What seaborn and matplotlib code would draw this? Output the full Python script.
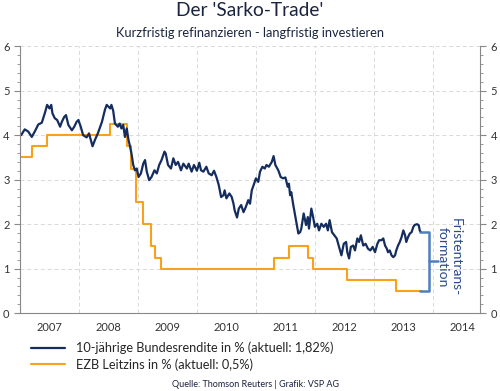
import matplotlib
matplotlib.use("Agg")
import matplotlib.pyplot as plt
import seaborn as sns
import numpy as np

# 10-year Bund yield (decimal year, %)
bund_t = [2007.02, 2007.08, 2007.14, 2007.20, 2007.25, 2007.31, 2007.37, 2007.42, 2007.46, 2007.50,
          2007.53, 2007.55, 2007.59, 2007.63, 2007.68, 2007.71, 2007.75, 2007.78, 2007.82, 2007.88,
          2007.92, 2007.96, 2007.99, 2008.03, 2008.07, 2008.13, 2008.17, 2008.23, 2008.27, 2008.32,
          2008.36, 2008.39, 2008.44, 2008.47, 2008.53, 2008.55, 2008.58, 2008.61, 2008.66, 2008.69,
          2008.72, 2008.75, 2008.78, 2008.81, 2008.84, 2008.86, 2008.89, 2008.92, 2008.95, 2008.98,
          2009.01, 2009.05, 2009.09, 2009.12, 2009.15, 2009.19, 2009.23, 2009.28, 2009.32, 2009.36,
          2009.40, 2009.45, 2009.47, 2009.51, 2009.56, 2009.60, 2009.64, 2009.68, 2009.73, 2009.77,
          2009.83, 2009.86, 2009.91, 2009.95, 2010.00, 2010.04, 2010.07, 2010.11, 2010.16, 2010.20,
          2010.25, 2010.29, 2010.33, 2010.37, 2010.41, 2010.45, 2010.47, 2010.50, 2010.55, 2010.59,
          2010.62, 2010.64, 2010.68, 2010.71, 2010.75, 2010.79, 2010.83, 2010.87, 2010.90, 2010.93,
          2010.97, 2011.00, 2011.04, 2011.07, 2011.11, 2011.15, 2011.18, 2011.22, 2011.27, 2011.30,
          2011.33, 2011.38, 2011.42, 2011.46, 2011.50, 2011.54, 2011.56, 2011.58, 2011.60, 2011.63,
          2011.66, 2011.69, 2011.72, 2011.75, 2011.77, 2011.81, 2011.85, 2011.88, 2011.90, 2011.94,
          2011.97, 2012.00, 2012.04, 2012.07, 2012.11, 2012.15, 2012.19, 2012.22, 2012.25, 2012.29,
          2012.33, 2012.37, 2012.41, 2012.45, 2012.49, 2012.53, 2012.55, 2012.58, 2012.61, 2012.65,
          2012.68, 2012.72, 2012.75, 2012.78, 2012.82, 2012.86, 2012.90, 2012.94, 2012.98, 2013.02,
          2013.06, 2013.09, 2013.13, 2013.16, 2013.19, 2013.22, 2013.24, 2013.27, 2013.30, 2013.33,
          2013.36, 2013.38, 2013.41, 2013.44, 2013.47, 2013.50, 2013.53, 2013.55, 2013.58, 2013.61,
          2013.64, 2013.67, 2013.69, 2013.73, 2013.76, 2013.78, 2013.80]
bund_y = [4.00, 4.13, 4.08, 3.96, 4.08, 4.24, 4.28, 4.49, 4.68, 4.60,
          4.68, 4.49, 4.38, 4.34, 4.19, 4.30, 4.41, 4.45, 4.23, 4.11,
          4.19, 4.30, 4.34, 4.19, 4.00, 3.95, 4.04, 3.75, 3.89, 4.04,
          4.19, 4.30, 4.57, 4.68, 4.60, 4.68, 4.55, 4.26, 4.19, 4.26,
          4.15, 4.23, 3.96, 4.15, 3.89, 3.78, 3.59, 3.33, 3.21, 3.25,
          3.06, 3.14, 3.36, 3.44, 3.18, 2.99, 3.06, 3.21, 3.14, 3.33,
          3.44, 3.63, 3.59, 3.33, 3.25, 3.48, 3.33, 3.40, 3.21, 3.36,
          3.25, 3.36, 3.18, 3.33, 3.20, 3.38, 3.21, 3.18, 3.29, 3.14,
          3.10, 3.20, 3.06, 2.88, 2.61, 2.65, 2.76, 2.58, 2.69, 2.61,
          2.46, 2.31, 2.15, 2.35, 2.43, 2.27, 2.39, 2.54, 2.46, 2.76,
          2.91, 3.03, 2.95, 3.18, 3.29, 3.25, 3.33, 3.29, 3.40, 3.53,
          3.33, 3.21, 3.06, 3.03, 3.05, 2.84, 2.91, 2.65, 2.72, 2.46,
          2.24, 2.01, 1.79, 1.82, 1.90, 2.24, 1.98, 2.16, 1.90, 2.35,
          2.16, 1.94, 2.01, 1.86, 2.01, 1.94, 2.01, 1.86, 2.09, 1.82,
          1.75, 1.68, 1.49, 1.30, 1.56, 1.60, 1.37, 1.23, 1.49, 1.52,
          1.41, 1.68, 1.60, 1.75, 1.52, 1.56, 1.45, 1.41, 1.49, 1.37,
          1.56, 1.64, 1.64, 1.68, 1.52, 1.45, 1.37, 1.41, 1.30, 1.26,
          1.30, 1.41, 1.52, 1.60, 1.71, 1.86, 1.75, 1.60, 1.71, 1.79,
          1.82, 1.94, 1.98, 2.00, 1.98, 1.85, 1.82]

# ECB main refinancing rate (step changes)
ezb_t = [2007.00, 2007.21, 2007.46, 2008.53, 2008.81, 2008.89, 2008.96, 2009.08, 2009.22, 2009.29,
         2009.39, 2011.31, 2011.56, 2011.88, 2011.97, 2012.55, 2013.38, 2013.81]
ezb_y = [3.50, 3.75, 4.00, 4.25, 3.75, 3.25, 2.50, 2.00, 1.50, 1.25,
         1.00, 1.25, 1.50, 1.25, 1.00, 0.75, 0.50, 0.50]

years = [2007, 2008, 2009, 2010, 2011, 2012, 2013, 2014]
yticks = [0, 1, 2, 3, 4, 5, 6]

label_bund = "10-jährige Bundesrendite in % (aktuell: 1,82%)"
label_ezb = "EZB Leitzins in % (aktuell: 0,5%)"

BLUE = "#142d5e"
ORANGE = "#f9a11b"
BRACKET = "#4f7fbf"
TXT = "#1a2440"

sns.set_style("white")
plt.rcParams["font.family"] = ["Lato", "DejaVu Sans"]

fig = plt.figure(figsize=(5, 3.91), dpi=100)
ax = fig.add_axes([0.04, 0.199, 0.92, 0.683])

sns.lineplot(x=ezb_t, y=ezb_y, ax=ax, color=ORANGE, linewidth=1.5,
             drawstyle="steps-post", label=label_ezb, legend=False)
sns.lineplot(x=bund_t, y=bund_y, ax=ax, color=BLUE, linewidth=1.6,
             label=label_bund, legend=False)

ax.set_xlim(2007.0, 2014.8)
ax.set_ylim(0, 6)

# year boundaries as major ticks / grid, labels centred in the year
ax.set_xticks(years)
ax.set_xticklabels([])
ax.set_xticks([y + 0.5 for y in years], minor=True)
ax.set_xticklabels([str(y) for y in years], minor=True)
ax.tick_params(axis="x", which="minor", length=0, labelsize=8, labelcolor="#333333", pad=6)
ax.tick_params(axis="x", which="major", length=4, color="#888888", direction="inout")

ax.set_yticks(yticks)
ax.set_yticks(np.arange(0, 6.01, 0.2), minor=True)
ax.tick_params(axis="y", which="major", labelsize=8, labelcolor="#333333", length=4,
               color="#888888", left=True, right=True, labelleft=True, labelright=True)
ax.tick_params(axis="y", which="minor", length=2, color="#888888", left=True, right=True)

ax.grid(True, which="major", axis="both", color="#d9d9d9", linestyle=(0, (4, 3)), linewidth=0.7)
for side in ["left", "right", "bottom"]:
    ax.spines[side].set_color("#888888")
    ax.spines[side].set_linewidth(0.8)
ax.spines["top"].set_visible(False)
ax.set_xlabel("")
ax.set_ylabel("")

# bracket between the two current values
top = bund_y[-1]
bot = ezb_y[-1]
x0 = bund_t[-1] - 0.01
x1 = x0 + 0.15
x2 = x1 + 0.14
mid = (top + bot) / 2 + 0.02
ax.plot([x0, x1, x1, x0], [top, top, bot, bot], color=BRACKET, lw=1.8, clip_on=False)
ax.plot([x1, x2], [mid, mid], color=BRACKET, lw=1.8, clip_on=False)
ax.text(x2 + 0.2, mid + 0.08, "Fristentrans-\nformation", rotation=-90, ha="center", va="center",
        fontsize=10, color="#2c4a8c", linespacing=1.05)

fig.text(0.5, 0.972, "Der 'Sarko-Trade'", ha="center", va="center", fontsize=13.8, color=TXT)
fig.text(0.5, 0.916, "Kurzfristig refinanzieren - langfristig investieren", ha="center",
         va="center", fontsize=9.3, color=TXT)

handles, labels = ax.get_legend_handles_labels()
order = [labels.index(label_bund), labels.index(label_ezb)]
fig.legend([handles[i] for i in order], [labels[i] for i in order], loc="upper left",
           bbox_to_anchor=(0.05, 0.142), frameon=False, fontsize=9.2,
           handlelength=2.6, handletextpad=0.9, labelspacing=0.3, borderpad=0)
fig.text(0.51, 0.016, "Quelle: Thomson Reuters | Grafik: VSP AG", ha="center", va="center",
         fontsize=6.5, color=TXT)

fig.savefig("out.png", dpi=100)
